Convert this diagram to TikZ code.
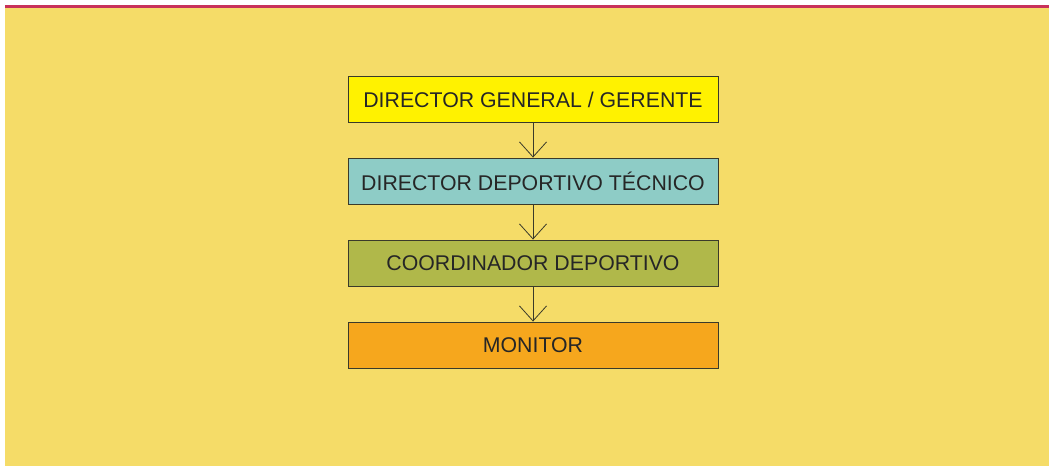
\documentclass[tikz,border=0pt]{standalone}
\usepackage{fontspec}
\setmainfont{Liberation Sans}
\usetikzlibrary{arrows.meta}
\definecolor{bgyellow}{HTML}{F5DC68}
\definecolor{topline}{HTML}{C8325A}
\definecolor{boxA}{HTML}{FFF200}
\definecolor{boxB}{HTML}{8ECCC6}
\definecolor{boxC}{HTML}{B0B84A}
\definecolor{boxD}{HTML}{F6A71D}
\definecolor{edge}{HTML}{3A3A2A}
\tikzset{
  orgbox/.style={draw=edge, line width=0.9pt, minimum width=370pt, minimum height=46pt, inner sep=0pt, font=\fontsize{21.3}{24}\selectfont, text=black!85},
  link/.style={draw=edge, line width=0.8pt, -{Straight Barb[length=15pt, width=27pt, line width=0.8pt]}}
}
\begin{document}
\begin{tikzpicture}[x=1pt,y=-1pt]
\useasboundingbox (0,0) rectangle (1049,466);
\fill[white] (0,0) rectangle (1049,466);
\fill[bgyellow] (5,7) rectangle (1049,466);
\fill[topline] (5,4.5) rectangle (1049,8);
\node[orgbox, fill=boxA] (a) at (533,99.5) {DIRECTOR GENERAL / GERENTE};
\node[orgbox, fill=boxB] (b) at (533,181) {DIRECTOR DEPORTIVO TÉCNICO};
\node[orgbox, fill=boxC] (c) at (533,263) {COORDINADOR DEPORTIVO};
\node[orgbox, fill=boxD] (d) at (533,345) {MONITOR};
\draw[link] (a.south) -- (b.north);
\draw[link] (b.south) -- (c.north);
\draw[link] (c.south) -- (d.north);
\end{tikzpicture}
\end{document}
